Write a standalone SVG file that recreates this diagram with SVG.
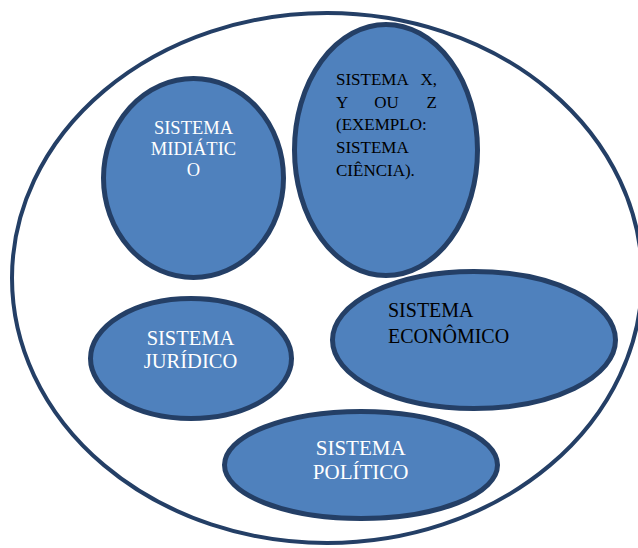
<svg xmlns="http://www.w3.org/2000/svg" width="638" height="548" viewBox="0 0 638 548">
<style>
.bg{fill:#ffffff}
.outer{fill:#ffffff;stroke:#243F66;stroke-width:4}
.sys{fill:#4F81BD;stroke:#243F66;stroke-width:5}
text{font-family:"Liberation Serif","Times New Roman",serif}
.w{fill:#ffffff}
.k{fill:#000000}
</style>
<rect class="bg" x="0" y="0" width="638" height="548"/>
<g id="sociedade">
<ellipse class="outer" cx="327" cy="278" rx="315" ry="265"/>
</g>
<g id="midiatico">
<ellipse class="sys" cx="193.5" cy="178" rx="90" ry="99.5"/>
<text class="w" font-size="18.5" text-anchor="middle"><tspan x="193.5" y="133.5">SISTEMA</tspan><tspan x="193.5" y="154.5">MIDIÁTIC</tspan><tspan x="193.5" y="175.5">O</tspan></text>
</g>
<g id="sistema-xyz">
<ellipse class="sys" cx="386" cy="150" rx="91.5" ry="125.5"/>
<text class="k" font-size="17"><tspan x="336" y="85">SISTEMA</tspan><tspan x="437" y="85" text-anchor="end">X,</tspan></text>
<text class="k" font-size="17"><tspan x="336" y="107.7">Y</tspan><tspan x="386.5" y="107.7" text-anchor="middle">OU</tspan><tspan x="437" y="107.7" text-anchor="end">Z</tspan></text>
<text class="k" font-size="17"><tspan x="336" y="130.3">(EXEMPLO:</tspan><tspan x="336" y="153">SISTEMA</tspan><tspan x="336" y="175.7">CIÊNCIA).</tspan></text>
</g>
<g id="juridico">
<ellipse class="sys" cx="191" cy="358.5" rx="100.5" ry="60"/>
<text class="w" font-size="20.5" text-anchor="middle"><tspan x="190.5" y="345">SISTEMA</tspan><tspan x="190.5" y="368">JURÍDICO</tspan></text>
</g>
<g id="economico">
<ellipse class="sys" cx="474" cy="340" rx="141.5" ry="68.5"/>
<text class="k" font-size="20"><tspan x="388" y="316.8">SISTEMA</tspan><tspan x="388" y="343.4">ECONÔMICO</tspan></text>
</g>
<g id="politico">
<ellipse class="sys" cx="361" cy="465" rx="136.5" ry="53.5"/>
<text class="w" font-size="21" text-anchor="middle"><tspan x="360.7" y="455">SISTEMA</tspan><tspan x="360.7" y="479.4">POLÍTICO</tspan></text>
</g>
<g id="connectors"/>
</svg>
